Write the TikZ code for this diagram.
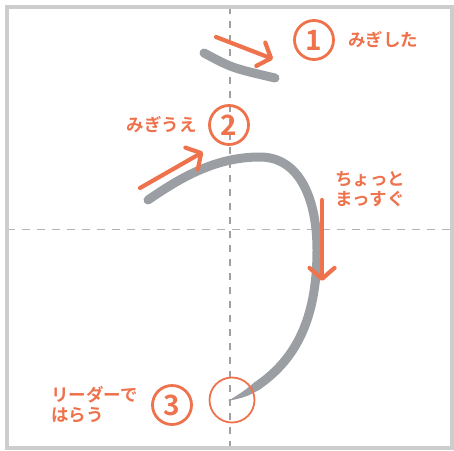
\documentclass[tikz,border=0pt]{standalone}
\usepackage{fontspec}
\usetikzlibrary{arrows.meta,positioning}
\newfontfamily\jpfont{Noto Sans CJK JP}[BoldFont={Noto Sans CJK JP Bold}]
\definecolor{hitsujun}{RGB}{238,114,76}
\definecolor{kakusen}{RGB}{155,158,162}
\definecolor{waku}{RGB}{205,205,205}
\definecolor{gaido}{RGB}{160,160,160}

\begin{document}
\begin{tikzpicture}[x=1pt, y=-1pt,
    bango/.style={circle, draw=hitsujun, line width=2.8pt, minimum size=39pt, inner sep=0pt,
        text=hitsujun, font=\jpfont\bfseries\fontsize{28}{28}\selectfont},
    setsumei/.style={text=hitsujun, inner sep=0pt, align=left,
        font=\jpfont\bfseries\fontsize{17.5}{20}\selectfont},
    muki/.style={draw=hitsujun, line width=4.2pt, line cap=round,
        -{Straight Barb[length=11pt, width=25pt, line cap=round, line join=round]}},
    kaku/.style={draw=kakusen, line width=9pt, line cap=round}
    ]
        \useasboundingbox (0,0) rectangle (454,450);

        \draw[gaido, line width=1.3pt, dash pattern=on 7pt off 7pt] (230,7) -- (230,448);
        \draw[gaido!80, line width=0.9pt, dash pattern=on 8pt off 7pt] (7,229) -- (452,229);
        \draw[waku, line width=4pt] (7,7) rectangle (452,448);

        % strokes
        \draw[kaku] (204,53) .. controls (232,68) .. (275,78);
        \draw[kaku] (148,200) .. controls (180,178) and (215,157) .. (260,157)
            .. controls (300,157) and (317,200) .. (317,250)
            .. controls (317,320) and (295,360) .. (257,386);
        \fill[kakusen] (254.5,382.3) .. controls (244,391) .. (228,401)
            .. controls (246,397) .. (259.5,389.7) -- cycle;

        % numbers and labels
        \node[bango] (n1) at (314,40) {1};
        \node[setsumei, right=13pt of n1] (t1) {みぎした};
        \node[bango] (n2) at (229,125) {2};
        \node[setsumei, left=11pt of n2] (t2) {みぎうえ};
        \node[bango] (n3) at (172,405) {3};
        \node[setsumei, left=13pt of n3] (t3) {リーダーで\\はらう};
        \node[setsumei, anchor=west] (t4) at (335,189) {ちょっと\\まっすぐ};
        \node[circle, draw=hitsujun, line width=1.8pt, minimum size=45pt] (harai) at (232,400) {};

        % directions
        \coordinate (m1a) at (216,37);
        \coordinate (m1b) at (273,59);
        \coordinate (m2a) at (140,188);
        \coordinate (m2b) at (203,152);
        \coordinate (m3a) at (322,200);
        \coordinate (m3b) at (322,281);
        \draw[muki] (m1a) -- (m1b);
        \draw[muki] (m2a) -- (m2b);
        \draw[muki] (m3a) -- (m3b);
\end{tikzpicture}
\end{document}
